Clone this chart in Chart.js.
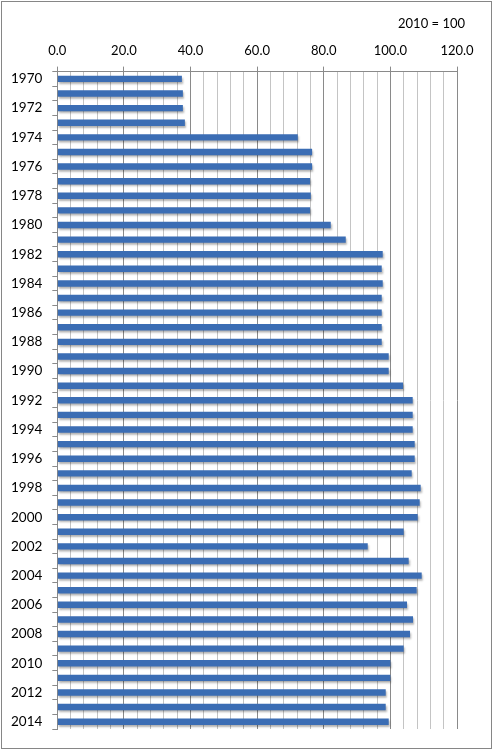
<!DOCTYPE html>
<html>
<head>
<meta charset="utf-8">
<script src="https://cdn.jsdelivr.net/npm/chart.js@4/dist/chart.umd.min.js"></script>
<style>
html,body{margin:0;padding:0;background:#fff;}
#wrap{width:494px;height:751px;position:relative;}
</style>
</head>
<body>
<div id="wrap"><canvas id="c" width="494" height="751"></canvas></div>
<script>
const years = [];
for (let y = 1970; y <= 2014; y++) years.push(String(y));
const values = [
  37.4, 37.7, 37.7, 38.3, 72.2, 76.5, 76.5, 75.9, 76.1, 75.9,
  82.1, 86.6, 97.7, 97.4, 97.7, 97.4, 97.4, 97.4, 97.4, 99.5,
  99.5, 103.8, 106.7, 106.7, 106.7, 107.3, 107.3, 106.4, 109.1, 108.8,
  108.2, 104.0, 93.2, 105.5, 109.4, 107.9, 105.0, 106.8, 105.9, 104.0,
  100.0, 100.0, 98.6, 98.6, 99.5
];
const unitNote = '2010 = 100';
const xMin = 0, xMax = 120, xStep = 4, xLabelStep = 20;

const FONT = 'Lato, "Noto Sans", sans-serif';

const frame = {
  id: 'frame',
  beforeDraw(chart) {
    const ctx = chart.ctx;
    ctx.save();
    ctx.fillStyle = '#fff';
    ctx.fillRect(0, 0, chart.width, chart.height);
    ctx.strokeStyle = '#868686';
    ctx.lineWidth = 1;
    ctx.strokeRect(1.5, 1.5, chart.width - 4, chart.height - 4);
    ctx.restore();
  },
  beforeDatasetsDraw(chart) {
    const ctx = chart.ctx;
    ctx.save();
    ctx.shadowColor = 'rgba(0,0,0,0.3)';
    ctx.shadowOffsetX = 1;
    ctx.shadowOffsetY = 2;
    ctx.shadowBlur = 2;
  },
  afterDatasetsDraw(chart) {
    chart.ctx.restore();
  },
  afterDraw(chart) {
    const ctx = chart.ctx;
    ctx.save();
    ctx.font = '13px ' + FONT;
    ctx.fillStyle = '#000';
    ctx.textAlign = 'right';
    ctx.textBaseline = 'middle';
    ctx.fillText(unitNote, chart.chartArea.right + 8, 24);
    ctx.restore();
  }
};

new Chart(document.getElementById('c'), {
  type: 'bar',
  data: {
    labels: years,
    datasets: [{
      data: values,
      backgroundColor: '#3B6DB4',
      borderWidth: 0,
      categoryPercentage: 0.8,
      barPercentage: 0.55
    }]
  },
  options: {
    indexAxis: 'y',
    responsive: false,
    animation: false,
    devicePixelRatio: 1,
    layout: { padding: { left: 1, right: 37, top: 35, bottom: 22 } },
    plugins: { legend: { display: false }, tooltip: { enabled: false }, title: { display: false } },
    scales: {
      x: {
        position: 'top',
        min: xMin,
        max: xMax,
        ticks: {
          stepSize: xStep,
          autoSkip: false,
          maxRotation: 0,
          padding: 8,
          color: '#000',
          font: { family: FONT, size: 13 },
          callback: (v) => (v % xLabelStep === 0 ? Number(v).toFixed(1) : '')
        },
        grid: {
          color: (c) => (c.tick && c.tick.value % xLabelStep === 0 ? '#8a8a8a' : '#c4c4c4'),
          tickColor: (c) => (c.tick && c.tick.value % xLabelStep === 0 ? '#8a8a8a' : 'rgba(0,0,0,0)'),
          tickLength: 5,
          lineWidth: 1
        },
        border: { display: true, color: '#8a8a8a' }
      },
      y: {
        ticks: {
          autoSkip: false,
          padding: 10,
          color: '#000',
          font: { family: FONT, size: 13.5 },
          callback: function (v, i) { return i % 2 === 0 ? this.getLabelForValue(v) : ''; }
        },
        grid: {
          drawOnChartArea: false,
          drawTicks: true,
          tickLength: 5,
          color: '#8a8a8a',
          offset: true
        },
        border: { display: true, color: '#8a8a8a' }
      }
    }
  },
  plugins: [frame]
});
</script>
</body>
</html>
